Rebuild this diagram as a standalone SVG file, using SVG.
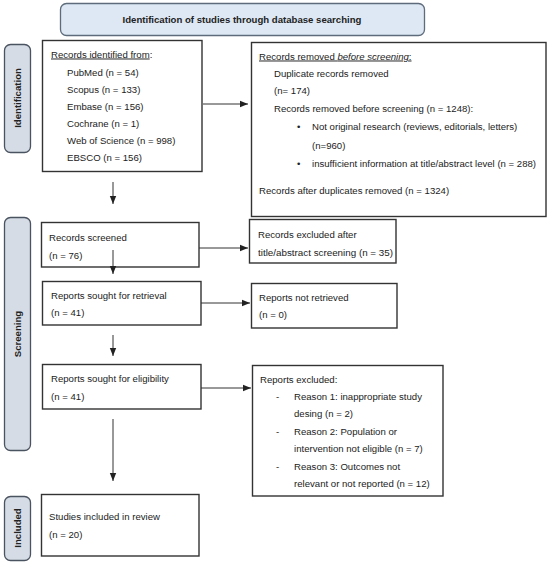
<svg xmlns="http://www.w3.org/2000/svg" width="550" height="564" viewBox="0 0 550 564">
<style>
text{font-family:"Liberation Sans",Arial,sans-serif;font-size:9.6px;fill:#222}
.b{font-weight:bold}
.box{fill:#fff;stroke:#333;stroke-width:1.4}
.side{fill:#d6dce5;stroke:#4a5360;stroke-width:1.3}
.title{fill:#dde8f4;stroke:#5d6b7b;stroke-width:1.3}
.c{stroke:#333;stroke-width:1;fill:none}
.u{text-decoration:underline}
</style>
<defs>
<marker id="ah" viewBox="0 0 8 8" refX="8" refY="4" markerWidth="8" markerHeight="8" markerUnits="userSpaceOnUse" orient="auto">
<path d="M0,0.8 L8,4 L0,7.2 Z" fill="#222"/>
</marker>
</defs>
<rect width="550" height="564" fill="#fff"/>
<g id="title">
<rect class="title" x="60.5" y="3.5" width="364" height="32" rx="6"/>
<text class="b" x="242" y="22.5" text-anchor="middle">Identification of studies through database searching</text>
</g>
<g id="label-identification">
<rect class="side" x="4.5" y="44.5" width="26" height="108" rx="6"/>
<text class="b" transform="translate(21,98) rotate(-90)" text-anchor="middle">Identification</text>
</g>
<g id="label-screening">
<rect class="side" x="4.5" y="217.5" width="26" height="233" rx="6"/>
<text class="b" transform="translate(21,334) rotate(-90)" text-anchor="middle">Screening</text>
</g>
<g id="label-included">
<rect class="side" x="4.5" y="496.5" width="26" height="64" rx="6"/>
<text class="b" transform="translate(21,528) rotate(-90)" text-anchor="middle">Included</text>
</g>
<g id="records-identified">
<rect class="box" x="42.5" y="40.5" width="159.5" height="131"/>
<text x="51" y="57.5"><tspan class="u">Records identified from</tspan>:</text>
<text x="67" y="75.5">PubMed (n = 54)</text>
<text x="67" y="92.5">Scopus (n = 133)</text>
<text x="67" y="109.5">Embase (n = 156)</text>
<text x="67" y="126.5">Cochrane (n = 1)</text>
<text x="67" y="143.5">Web of Science (n = 998)</text>
<text x="67" y="160.5">EBSCO (n = 156)</text>
</g>
<g id="records-removed">
<rect class="box" x="251.5" y="42.5" width="294.5" height="174"/>
<text x="259" y="59.5" class="u">Records removed <tspan font-style="italic">before screening</tspan>:</text>
<text x="274" y="76.5">Duplicate records removed</text>
<text x="274" y="94">(n= 174)</text>
<text x="274" y="111.5">Records removed before screening (n = 1248):</text>
<text x="297" y="130">•</text>
<text x="312" y="130">Not original research (reviews, editorials, letters)</text>
<text x="312" y="149">(n=960)</text>
<text x="297" y="167">•</text>
<text x="312" y="167">insufficient information at title/abstract level (n = 288)</text>
<text x="259" y="194">Records after duplicates removed (n = 1324)</text>
</g>
<g id="records-screened">
<rect class="box" x="41.5" y="222.5" width="157.5" height="44.5"/>
<text x="49" y="240.5">Records screened</text>
<text x="49" y="258.5">(n = 76)</text>
</g>
<g id="records-excluded">
<rect class="box" x="249.5" y="219.5" width="146.5" height="43.5"/>
<text x="258" y="237.5">Records excluded after</text>
<text x="258" y="255.5" textLength="135" lengthAdjust="spacingAndGlyphs">title/abstract screening (n = 35)</text>
</g>
<g id="reports-retrieval">
<rect class="box" x="42.5" y="281.5" width="158.5" height="43.5"/>
<text x="51" y="299">Reports sought for retrieval</text>
<text x="51" y="316">(n = 41)</text>
</g>
<g id="reports-not-retrieved">
<rect class="box" x="251.5" y="283.5" width="145.5" height="44.5"/>
<text x="259" y="301">Reports not retrieved</text>
<text x="259" y="318">(n = 0)</text>
</g>
<g id="reports-eligibility">
<rect class="box" x="42.5" y="364.5" width="158.5" height="44.5"/>
<text x="51" y="381.5">Reports sought for eligibility</text>
<text x="51" y="399.5">(n = 41)</text>
</g>
<g id="reports-excluded">
<rect class="box" x="252.5" y="365.5" width="190.5" height="130.5"/>
<text x="260" y="382.5">Reports excluded:</text>
<text x="276" y="399.5">-</text>
<text x="294" y="399.5">Reason 1: inappropriate study</text>
<text x="294" y="416.5">desing (n = 2)</text>
<text x="276" y="434.5">-</text>
<text x="294" y="434.5">Reason 2: Population or</text>
<text x="294" y="451.5">intervention not eligible (n = 7)</text>
<text x="276" y="469.5">-</text>
<text x="294" y="469.5">Reason 3: Outcomes not</text>
<text x="294" y="486.5">relevant or not reported (n = 12)</text>
</g>
<g id="studies-included">
<rect class="box" x="41.5" y="494.5" width="157.5" height="61.5"/>
<text x="49" y="519.5">Studies included in review</text>
<text x="49" y="537.5">(n = 20)</text>
</g>
<g id="connectors">
<line class="c" x1="203" y1="104" x2="248" y2="104" marker-end="url(#ah)"/>
<line class="c" x1="113" y1="182" x2="113" y2="204" marker-end="url(#ah)"/>
<line class="c" x1="199" y1="248" x2="248" y2="248" marker-end="url(#ah)"/>
<line class="c" x1="113" y1="250" x2="113" y2="274" marker-end="url(#ah)"/>
<line class="c" x1="201" y1="303" x2="250" y2="303" marker-end="url(#ah)"/>
<line class="c" x1="113" y1="335" x2="113" y2="356" marker-end="url(#ah)"/>
<line class="c" x1="201" y1="388" x2="251" y2="388" marker-end="url(#ah)"/>
<line class="c" x1="113" y1="419" x2="113" y2="481" marker-end="url(#ah)"/>
</g>
</svg>
